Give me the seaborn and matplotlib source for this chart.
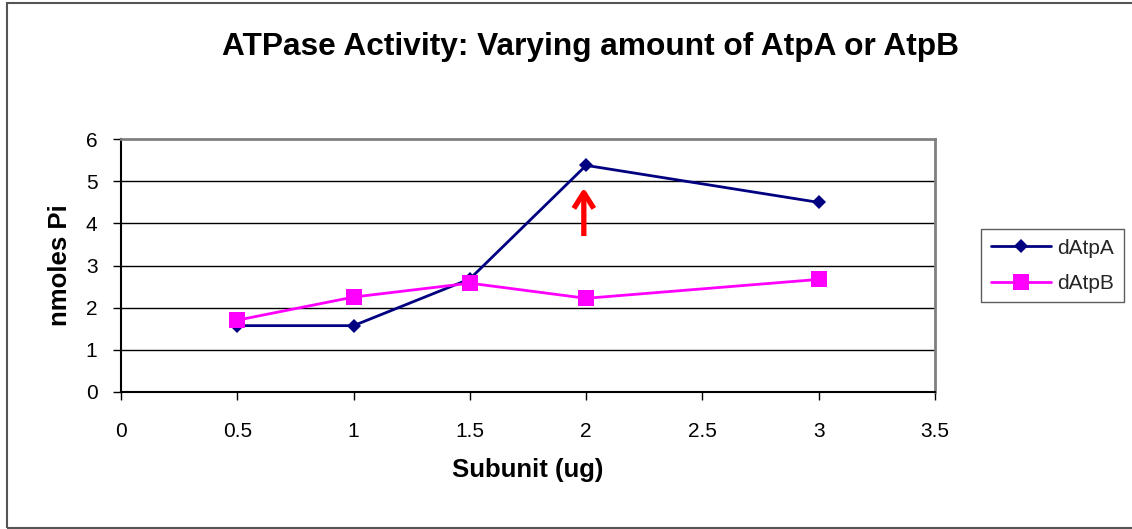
import numpy as np
import pandas as pd
import matplotlib
matplotlib.use("Agg")
import matplotlib.pyplot as plt
import seaborn as sns

# ---- data ----
subunit_ug = [0.5, 1.0, 1.5, 2.0, 3.0]
datpa = [1.57, 1.57, 2.68, 5.38, 4.50]
datpb = [1.70, 2.25, 2.58, 2.22, 2.67]
series_names = ["dAtpA", "dAtpB"]
x_ticks = [0, 0.5, 1, 1.5, 2, 2.5, 3, 3.5]
x_tick_labels = ["0", "0.5", "1", "1.5", "2", "2.5", "3", "3.5"]
y_ticks = [0, 1, 2, 3, 4, 5, 6]
arrow_x = 1.99
arrow_y = [3.70, 4.85]
title = "ATPase Activity: Varying amount of AtpA or AtpB"
x_label = "Subunit (ug)"
y_label = "nmoles Pi"

df = pd.DataFrame({
    "x": subunit_ug * 2,
    "y": datpa + datpb,
    "series": [series_names[0]] * len(subunit_ug) + [series_names[1]] * len(subunit_ug),
})

sns.set_theme(style="white")
plt.rcParams["font.family"] = ["Liberation Sans", "DejaVu Sans"]

fig = plt.figure(figsize=(11.32, 5.29), dpi=100)
fig.patch.set_facecolor("white")
ax = fig.add_axes([121 / 1132, 1 - 391.7 / 529, (935 - 121) / 1132, (391.7 - 139.3) / 529])

palette = {"dAtpA": "#000080", "dAtpB": "#FF00FF"}
markers = {"dAtpA": "D", "dAtpB": "s"}
sizes_m = {"dAtpA": 7, "dAtpB": 11}
for name in series_names:
    sub = df[df["series"] == name]
    sns.lineplot(data=sub, x="x", y="y", ax=ax, color=palette[name],
                 marker=markers[name], markersize=sizes_m[name],
                 markeredgewidth=0, linewidth=2, label=name, zorder=3,
                 estimator=None, sort=False)

ax.annotate("", xy=(arrow_x, arrow_y[1]), xytext=(arrow_x, arrow_y[0]),
            arrowprops=dict(arrowstyle="->,head_length=0.95,head_width=0.6",
                            color="#FF0000", lw=3.8, shrinkA=0, shrinkB=0,
                            mutation_scale=12, capstyle="butt"),
            zorder=4)

ax.set_xlim(0, 3.5)
ax.set_ylim(0, 6)
ax.set_xticks(x_ticks)
ax.set_xticklabels(x_tick_labels)
ax.set_yticks(y_ticks)
for yv in y_ticks[1:-1]:
    ax.axhline(yv, color="black", lw=1, zorder=1)

ax.spines["left"].set_color("black")
ax.spines["bottom"].set_color("black")
ax.spines["left"].set_linewidth(1.5)
ax.spines["bottom"].set_linewidth(1.5)
ax.spines["top"].set_color("#808080")
ax.spines["right"].set_color("#808080")
ax.spines["top"].set_linewidth(2)
ax.spines["right"].set_linewidth(2)
ax.tick_params(axis="both", direction="out", length=6, width=1, color="black",
               labelsize=15, labelcolor="black", left=True, bottom=True)
ax.tick_params(axis="x", pad=16)
ax.tick_params(axis="y", pad=11)

ax.set_xlabel(x_label, fontsize=18.5, fontweight="bold", labelpad=12, color="black")
ax.set_ylabel(y_label, fontsize=18.5, fontweight="bold", labelpad=9.5, color="black")
fig.text(590 / 1132, 1 - 47 / 529, title, ha="center", va="center",
         fontsize=22.8, fontweight="bold", color="black")

leg = ax.legend(loc="upper left", bbox_to_anchor=(981 / 1132, 1 - 229 / 529),
                bbox_transform=fig.transFigure, frameon=True, fancybox=False,
                fontsize=15, borderpad=0.46, handlelength=2.9, labelspacing=0.78,
                handletextpad=0.3, borderaxespad=0)
leg.get_frame().set_edgecolor("#333333")
leg.get_frame().set_linewidth(1)

fig.patches.append(plt.Rectangle((7 / 1132, 1.5 / 529), 1.2, 1 - 4.5 / 529,
                                 transform=fig.transFigure, fill=False,
                                 edgecolor="#555555", lw=1.5, figure=fig))

fig.savefig("out.png", dpi=100, facecolor="white")
